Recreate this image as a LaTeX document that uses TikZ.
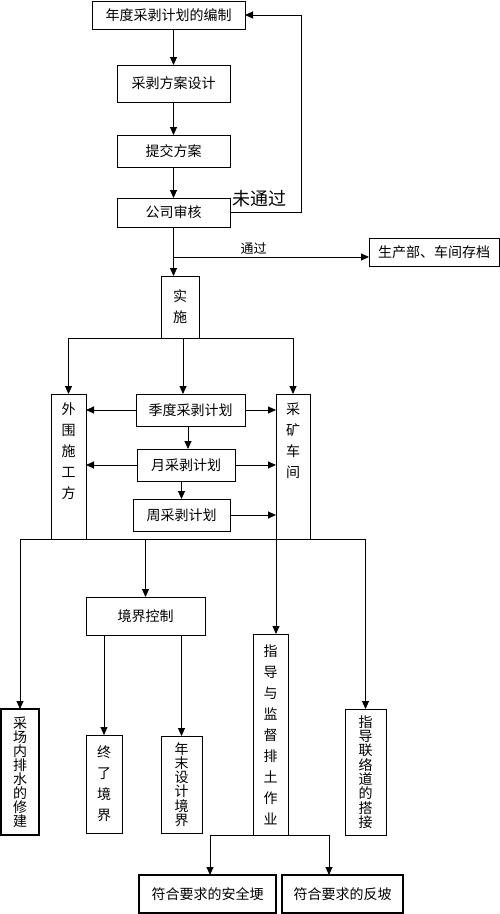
\documentclass[tikz,border=0pt]{standalone}
\usepackage{fontspec}
\setmainfont{Noto Sans CJK SC}
\usetikzlibrary{arrows.meta}
\begin{document}
\begin{tikzpicture}[x=1pt,y=-1pt,inner sep=0pt,outer sep=0pt,line width=0.9pt,
>={Triangle[length=8pt,width=7pt]},
flowbox/.style={draw,rectangle,font=\fontsize{14}{16}\selectfont},
vbox/.style={draw,rectangle,align=center,font=\fontsize{14}{#1}\selectfont},
vbox/.default=21,
vtext/.style={align=center,font=\fontsize{14}{21}\selectfont}]
\useasboundingbox (0,0) rectangle (500,914);
\draw (168.5,15) node[flowbox,minimum width=153,minimum height=28] (plan) {年度采剥计划的编制};
\draw (173.5,83.5) node[flowbox,minimum width=113,minimum height=37] (design) {采剥方案设计};
\draw (173.5,151) node[flowbox,minimum width=113,minimum height=32] (submit) {提交方案};
\draw (173.5,212.5) node[flowbox,minimum width=113,minimum height=29] (audit) {公司审核};
\draw (434,252) node[flowbox,minimum width=130,minimum height=28] (archive) {生产部、车间存档};
\draw (180,307) node[vbox,minimum width=38,minimum height=62] (impl) {实\\施};
\draw (68.5,466.5) node[vbox,minimum width=35,minimum height=145] (waiwei) {};
\draw ([yshift=-9]waiwei.north) node[vtext,anchor=north] (waiweiT) {外\\围\\施\\工\\方};
\draw (293,466.5) node[vbox,minimum width=34,minimum height=145] (mine) {};
\draw ([yshift=-9]mine.north) node[vtext,anchor=north] (mineT) {采\\矿\\车\\间};
\draw (190.5,410) node[flowbox,minimum width=109,minimum height=32] (quarter) {季度采剥计划};
\draw (186,465) node[flowbox,minimum width=98,minimum height=32] (month) {月采剥计划};
\draw (181.5,515) node[flowbox,minimum width=97,minimum height=32] (week) {周采剥计划};
\draw (145.5,616) node[flowbox,minimum width=119,minimum height=38] (boundary) {境界控制};
\draw (20,772) node[vbox=14,minimum width=38,minimum height=126,line width=1.5pt] (drain) {采\\场\\内\\排\\水\\的\\修\\建};
\draw (104,784) node[vbox,minimum width=36,minimum height=98] (final) {终\\了\\境\\界};
\draw (181.5,784.5) node[vbox=14.2,minimum width=41,minimum height=97] (yearend) {年\\末\\设\\计\\境\\界};
\draw (270.5,734.5) node[vbox,minimum width=35,minimum height=201] (guide) {指\\导\\与\\监\\督\\排\\土\\作\\业};
\draw (365.5,772) node[vbox=14.3,minimum width=41,minimum height=126] (link) {指\\导\\联\\络\\道\\的\\搭\\接};
\draw (207.5,894) node[flowbox,minimum width=137,minimum height=38,line width=1.5pt] (berm) {符合要求的安全埂};
\draw (342.5,894) node[flowbox,minimum width=121,minimum height=38,line width=1.5pt] (slope) {符合要求的反坡};
% review loop
\draw[->] (design.north |- plan.south) -- (design.north);
\draw[->] (design) -- (submit);
\draw[->] (submit) -- (audit);
\draw[->] (audit.east) -- ++(71,0) node[pos=0.42,above=6pt,font=\fontsize{18}{18}\selectfont] (fail) {未通过} |- (plan.east);
\draw[->] (audit.south) -- (audit.south |- impl.north);
\coordinate (pass) at (173.5,257);
\draw[->] (pass) -- (pass -| archive.west) node[pos=0.41,above=3pt,font=\fontsize{13}{13}\selectfont] (passT) {通过};
% plans
\draw[->] (impl.south) -| (waiwei.north);
\draw[->] (impl.south) -| (mine.north);
\draw[->] ([xshift=-7.5]quarter.north |- impl.south) -- ([xshift=-7.5]quarter.north);
\draw[->] (quarter.west) -- (quarter.west -| waiwei.east);
\draw[->] (quarter.east) -- (quarter.east -| mine.west);
\draw[->] ([xshift=-2.5]quarter.south) -- ([xshift=2]month.north);
\draw[->] (month.west) -- (month.west -| waiwei.east);
\draw[->] (month.east) -- (month.east -| mine.west);
\draw[->] (week.north |- month.south) -- (week.north);
\draw[->] (week.east) -- (week.east -| mine.west);
% field work
\draw (drain.north |- waiwei.south) -- (link.north |- waiwei.south);
\draw[->] (drain.north |- waiwei.south) -- (drain.north);
\draw[->] (boundary.north |- waiwei.south) -- (boundary.north);
\draw[->] (mine.south west) -- (mine.south west |- guide.north);
\draw[->] (link.north |- waiwei.south) -- (link.north);
\draw[->] (final.north |- boundary.south) -- (final.north);
\draw[->] (yearend.north |- boundary.south) -- (yearend.north);
\draw[->] (guide.south) -| ([xshift=2.5]berm.north);
\draw[->] (guide.south) -| ([xshift=-13.5]slope.north);
\end{tikzpicture}
\end{document}
